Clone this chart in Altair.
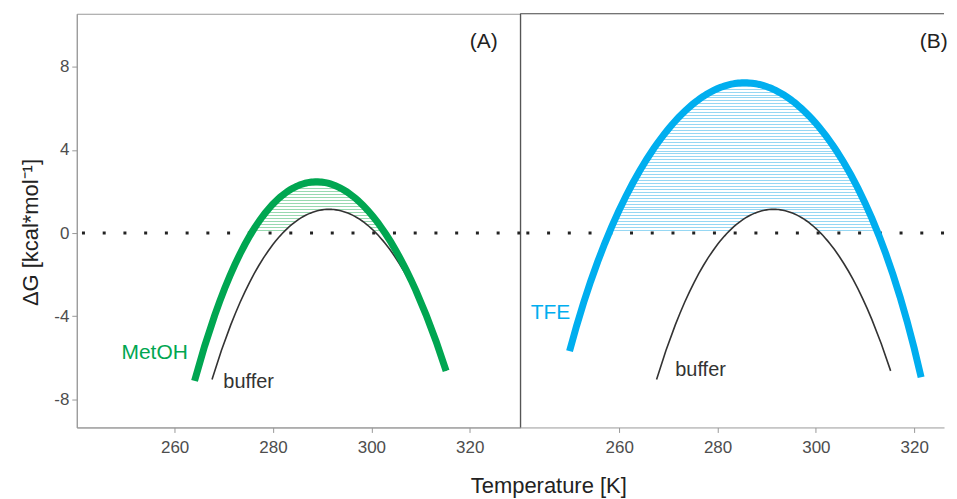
import altair as alt
import pandas as pd

# ---------------- data ----------------
buffer_T = [267.6, 269.5, 274.0, 277.7, 282.8, 286.8, 291.6, 296.6, 300.8, 304.7, 309.3, 312.2, 315.2]
buffer_G = [-7.17, -5.49, -2.94, -1.34, 0.0, 0.90, 1.29, 0.90, 0.0, -1.34, -2.94, -4.53, -6.70]

metoh_T = [264.05, 266.3, 269.6, 272.3, 276.0, 280.4, 289.9, 298.7, 302.4, 305.4, 309.5, 312.7, 315.2]
metoh_G = [-7.01, -5.49, -2.94, -1.34, 0.0, 1.53, 2.41, 1.53, 0.0, -1.34, -2.94, -4.53, -6.85]

tfe_T = [249.9, 253.5, 257.6, 265.7, 273.1, 284.9, 296.8, 306.2, 312.3, 317.0, 321.4]
tfe_G = [-5.65, -2.94, 0.0, 3.45, 5.84, 7.33, 5.84, 3.45, 0.0, -2.94, -6.93]

zero_level = [0]
x_ticks = [260, 280, 300, 320]
y_ticks = [-8, -4, 0, 4, 8]

# annotation anchors (data units)
labA_text = ["MetOH", "buffer", "(A)"]
labA_T = [249.2, 269.9, 325.7]
labA_G = [-5.77, -7.18, 9.17]
labB_text = ["TFE", "buffer", "(B)"]
labB_T = [242.0, 271.4, 326.8]
labB_G = [-3.83, -6.59, 9.17]

# ---------------- styling ----------------
GREEN = "#00A651"
BLUE = "#00AEEF"
DARK = "#333333"
YDOM = [-9.35, 10.55]
H = 415
WA, WB = 445, 425
XDOM_A = [240.1, 330.3]
XDOM_B = [239.9, 239.9 + WB / 4.933]


def stripes(color, n, frac=0.34):
    stops = []
    for i in range(n):
        a = i / n
        b = (i + frac) / n
        c = (i + 1) / n
        stops += [
            alt.GradientStop(offset=a, color=color),
            alt.GradientStop(offset=b, color=color),
            alt.GradientStop(offset=b, color="#ffffff"),
            alt.GradientStop(offset=c, color="#ffffff"),
        ]
    return alt.LinearGradient(gradient="linear", stops=stops, x1=0, x2=0, y1=0, y2=1)


axis_common = dict(
    grid=False, labelFontSize=17, labelColor="#4d4d4d", tickColor="#999999",
    domainColor="#999999", tickSize=5, labelFont="Liberation Sans",
)

x_axis_A = alt.Axis(
    values=x_ticks, title="Temperature [K]", titleX=473, titleY=65,
    titleBaseline="alphabetic", titleAlign="center", titleFontSize=22,
    titleFontWeight="normal", titleColor="#222222", labelPadding=7,
    titleFont="Liberation Sans", **axis_common,
)
x_axis_B = alt.Axis(values=x_ticks, title=None, labelPadding=7, **axis_common)
y_axis_A = alt.Axis(
    values=y_ticks, labelExpr="'' + datum.value", title="ΔG [kcal*mol⁻¹]",
    titleX=-46, titleY=219, titleBaseline="middle", titleAlign="center",
    titleFontSize=22, titleFontWeight="normal", titleColor="#222222",
    labelPadding=3, titleFont="Liberation Sans", **axis_common,
)


def panel(sol_T, sol_G, sol_order, sol_color, hatch_color, n_str, xdom, width,
          x_axis, y_axis, lab_text, lab_T, lab_G):
    X = alt.X("T:Q", scale=alt.Scale(domain=xdom, nice=False, zero=False), axis=x_axis)

    def Y(field):
        return alt.Y(field, type="quantitative",
                     scale=alt.Scale(domain=YDOM, nice=False, zero=False), axis=y_axis)

    buf = alt.Chart(pd.DataFrame({"T": buffer_T, "G": buffer_G})).transform_regression(
        "T", "G", method="poly", order=4)
    sol = alt.Chart(pd.DataFrame({"T": sol_T, "G": sol_G})).transform_regression(
        "T", "G", method="poly", order=sol_order)
    zdf = pd.DataFrame({"G": zero_level})

    hatch = sol.transform_calculate(Gc="max(datum.G, 0)").mark_area(
        fill=stripes(hatch_color, n_str)).encode(x=X, y=Y("Gc"), y2=alt.datum(0))
    white = buf.transform_calculate(Gc="max(datum.G, 0)").mark_area(
        fill="#ffffff").encode(x=X, y=Y("Gc"), y2=alt.datum(0))
    zero = alt.Chart(zdf).mark_rule(
        color="#222222", strokeWidth=3, strokeDash=[3, 17.8]).encode(y=Y("G"))
    buf_line = buf.mark_line(color=DARK, strokeWidth=1.6).encode(x=X, y=Y("G"))
    sol_line = sol.mark_line(color=sol_color, strokeWidth=7).encode(x=X, y=Y("G"))

    layers = [hatch, white, zero, buf_line, sol_line]
    styles = [
        dict(align="left", color=sol_color, fontSize=21),
        dict(align="left", color=DARK, fontSize=20),
        dict(align="right", color="#222222", fontSize=21),
    ]
    for t, tx, gy, st in zip(lab_text, lab_T, lab_G, styles):
        layers.append(
            alt.Chart(pd.DataFrame({"T": [tx], "G": [gy], "label": [t]})).mark_text(
                baseline="middle", font="Liberation Sans", **st
            ).encode(x=X, y=Y("G"), text="label:N")
        )
    return layers


layersA = panel(metoh_T, metoh_G, 4, GREEN, "#98d9b0", 17, XDOM_A, WA, x_axis_A, y_axis_A,
                labA_text, labA_T, labA_G)
panelA = alt.layer(*layersA).properties(
    width=WA, height=H, view=alt.ViewBackground(stroke="#999999", strokeWidth=1))

layersB = panel(tfe_T, tfe_G, 6, BLUE, "#96d7f3", 51, XDOM_B, WB, x_axis_B, None,
                labB_text, labB_T, labB_G)
one = pd.DataFrame({"G": zero_level})
left_border = alt.Chart(one).mark_rule(color="#444444", strokeWidth=1).encode(
    x=alt.value(0), y=alt.value(0), y2=alt.value(H))
top_border = alt.Chart(one).mark_rule(color="#444444", strokeWidth=1).encode(
    x=alt.value(0), x2=alt.value(WB), y=alt.value(0))
panelB = alt.layer(*layersB, left_border, top_border).properties(
    width=WB, height=H, view=alt.ViewBackground(stroke="transparent"))

chart = alt.hconcat(panelA, panelB, spacing=0, bounds="flush").properties(
    padding={"left": 11, "top": 4, "right": 0, "bottom": 0},
    background="white",
).configure(font="Liberation Sans")

chart.save("out.html", embed_options={"renderer": "svg", "actions": False})
